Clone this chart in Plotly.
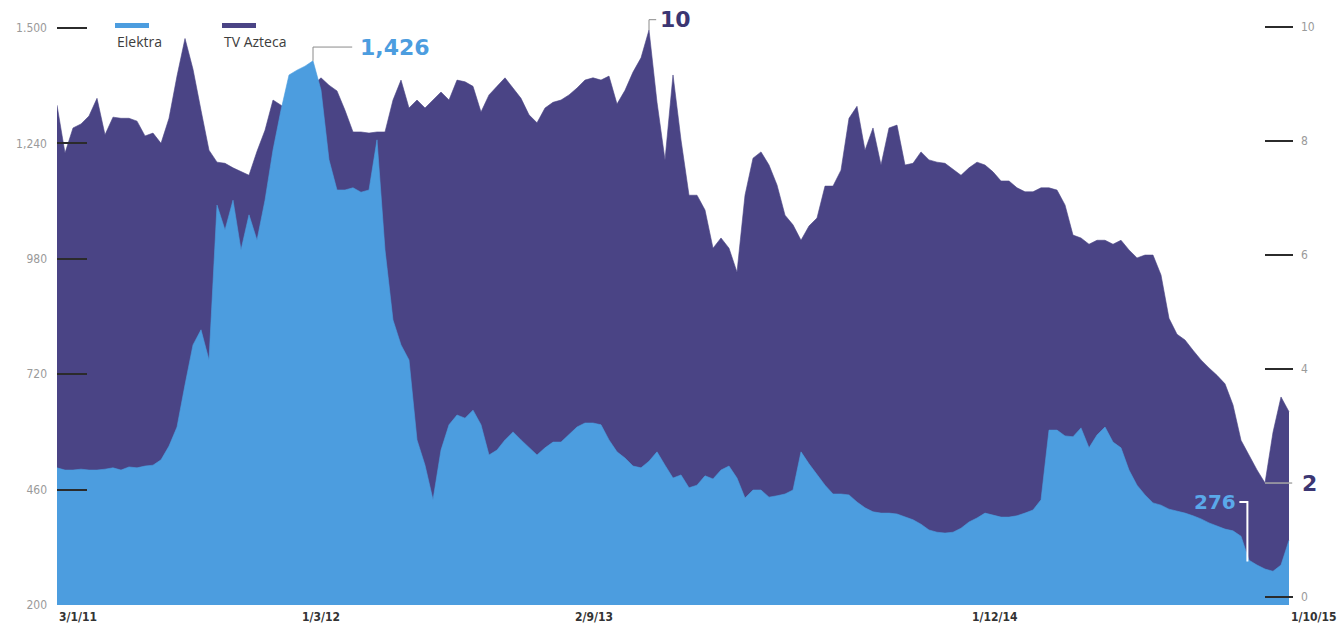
import plotly.graph_objects as go

# ---------------- data ----------------
# Elektra share price (left axis, MXN), sampled evenly along the time axis
elektra = [
    509, 504, 504, 506, 504, 504, 506, 509, 504, 511,
    509, 513, 515, 527, 558, 601, 696, 786, 820, 752,
    1101, 1045, 1112, 1000, 1079, 1022, 1112, 1225, 1315, 1394,
    1405, 1414, 1426, 1360, 1203, 1135, 1135, 1140, 1130, 1135,
    1248, 1000, 842, 786, 752, 572, 515, 437, 549, 606,
    628, 621, 639, 606, 538, 549, 572, 590, 572, 554,
    538, 554, 567, 567, 583, 601, 610, 610, 606, 572,
    545, 531, 513, 509, 524, 545, 515, 486, 493, 464,
    470, 491, 484, 504, 513, 486, 441, 459, 459, 443,
    446, 450, 459, 545, 518, 493, 470, 450, 450, 448,
    432, 419, 410, 407, 407, 405, 398, 392, 382, 369,
    364, 362, 364, 373, 387, 396, 407, 403, 398, 398,
    401, 407, 414, 437, 594, 594, 581, 579, 599, 554,
    583, 601, 567, 554, 504, 470, 448, 430, 425, 416,
    412, 407, 401, 394, 385, 378, 371, 367, 355, 301,
    290, 281, 276, 290, 346,
]
# TV Azteca share price (right axis, MXN)
azteca = [
    8.63, 7.79, 8.23, 8.30, 8.44, 8.75, 8.11, 8.42, 8.40, 8.40,
    8.35, 8.09, 8.14, 7.96, 8.40, 9.14, 9.80, 9.26, 8.54, 7.84,
    7.63, 7.61, 7.53, 7.46, 7.40, 7.82, 8.19, 8.72, 8.63, 8.51,
    8.81, 8.89, 8.98, 9.11, 8.98, 8.88, 8.54, 8.16, 8.16, 8.14,
    8.16, 8.16, 8.72, 9.07, 8.58, 8.72, 8.58, 8.72, 8.86, 8.72,
    9.07, 9.04, 8.96, 8.51, 8.81, 8.96, 9.11, 8.93, 8.75, 8.46,
    8.32, 8.58, 8.68, 8.72, 8.81, 8.93, 9.07, 9.11, 9.07, 9.14,
    8.65, 8.89, 9.21, 9.46, 9.95, 8.68, 7.67, 9.16, 8.02, 7.05,
    7.05, 6.79, 6.12, 6.30, 6.12, 5.70, 7.05, 7.70, 7.81, 7.58,
    7.23, 6.70, 6.53, 6.26, 6.51, 6.65, 7.21, 7.21, 7.49, 8.40,
    8.61, 7.84, 8.23, 7.58, 8.23, 8.28, 7.58, 7.61, 7.81, 7.67,
    7.63, 7.61, 7.51, 7.40, 7.53, 7.63, 7.58, 7.46, 7.30, 7.30,
    7.18, 7.11, 7.11, 7.18, 7.18, 7.14, 6.88, 6.35, 6.30, 6.19,
    6.26, 6.26, 6.19, 6.26, 6.09, 5.95, 6.00, 6.00, 5.65, 4.89,
    4.61, 4.51, 4.33, 4.16, 4.02, 3.89, 3.74, 3.37, 2.75, 2.49,
    2.23, 2.00, 2.89, 3.51, 3.25,
]
date_labels = ["3/1/11", "1/3/12", "2/9/13", "1/12/14", "1/10/15"]
date_pos = [0, 30.4, 64.5, 114.1, 155.0]          # position on the sample axis
left_ticks = [200, 460, 720, 980, 1240, 1500]
left_text = ["200", "460", "720", "980", "1,240", "1.500"]
right_ticks = [0, 4, 6, 8, 10]
right_text = ["0", "4", "6", "8", "10"]

# ---------------- styling ----------------
BLUE = "#4c9ddf"
PURPLE = "#4a4485"
NUM_PURPLE = "#3b3672"
TICK = "#2b2b2b"
LABEL_GREY = "#9a9a9a"
NARROW = "DejaVu Sans Condensed, Roboto, sans-serif"
HEAVY = "DejaVu Sans, sans-serif"

W, H = 1341, 631
L, R, T, B = 57, 48, 10, 26
X_MAX = 154.5


def px(xp):
    return (xp - L) / (W - L - R)


def py(yp):
    return (H - B - yp) / (H - T - B)


def xpaper(v):
    return v / X_MAX


idx = list(range(len(elektra)))

fig = go.Figure()
fig.add_trace(go.Scatter(
    x=idx, y=azteca, yaxis="y", mode="lines", fill="tozeroy",
    line=dict(color=PURPLE, width=0.6), fillcolor=PURPLE,
    name="TV Azteca", hoverinfo="skip"))
fig.add_trace(go.Scatter(
    x=idx, y=elektra, yaxis="y2", mode="lines", fill="tozeroy",
    line=dict(color=BLUE, width=0.6), fillcolor=BLUE,
    name="Elektra", hoverinfo="skip"))

fig.update_layout(
    width=W, height=H, margin=dict(l=L, r=R, t=T, b=B),
    paper_bgcolor="white", plot_bgcolor="white", showlegend=False,
    xaxis=dict(range=[0, X_MAX], showgrid=False, zeroline=False,
               showticklabels=False, ticks="", showline=False),
    yaxis=dict(side="right", range=[-0.14, 10.30], tickvals=right_ticks,
               ticktext=right_text, ticks="inside", ticklen=28, tickwidth=2,
               tickcolor=TICK, showgrid=False, zeroline=False, showline=False,
               ticklabelstandoff=7,
               tickfont=dict(family=NARROW, size=12, color=LABEL_GREY)),
    yaxis2=dict(overlaying="y", side="left", range=[200, 1540.5],
                tickvals=left_ticks, ticktext=left_text, ticks="inside",
                ticklen=30, tickwidth=2, tickcolor=TICK, showgrid=False,
                zeroline=False, showline=False, ticklabelstandoff=9,
                tickfont=dict(family=NARROW, size=12, color=LABEL_GREY)),
)

annotations = []
shapes = []

# date labels along the bottom (last one ends at the right edge of the page)
for k, (lab, pos) in enumerate(zip(date_labels, date_pos)):
    last = k == len(date_labels) - 1
    annotations.append(dict(
        x=px(W - 3) if last else xpaper(pos), y=0, xref="paper", yref="paper",
        text=lab, showarrow=False, xanchor="right" if last else "left",
        yanchor="top", yshift=-3,
        font=dict(family=NARROW, size=12, color="#333333", weight="bold")))

# legend (swatch bar above each name)
for name, color, x0 in [("Elektra", BLUE, 115), ("TV Azteca", PURPLE, 222)]:
    shapes.append(dict(type="rect", xref="paper", yref="paper",
                       x0=px(x0), x1=px(x0 + 34), y0=py(28), y1=py(23),
                       fillcolor=color, line=dict(width=0)))
    annotations.append(dict(x=px(x0), y=py(41), xref="paper", yref="paper",
                            text=name, showarrow=False, xanchor="left",
                            yanchor="middle",
                            font=dict(family="Open Sans", size=14,
                                      color="#3d3d3d")))

# Elektra maximum
i_max = max(range(len(elektra)), key=lambda i: elektra[i])
e_max = elektra[i_max]
lead_y = 1457
shapes.append(dict(type="path", xref="x", yref="y2",
                   path=f"M {i_max},{e_max} L {i_max},{lead_y} L {i_max + 4.9},{lead_y}",
                   line=dict(color="#8a8a8a", width=1)))
annotations.append(dict(x=i_max + 5.6, y=lead_y, xref="x", yref="y2",
                        text=f"{e_max:,}", showarrow=False, xanchor="left",
                        yanchor="middle",
                        font=dict(family=HEAVY, size=22, color=BLUE,
                                  weight="bold")))

# TV Azteca maximum
j_max = max(range(len(azteca)), key=lambda i: azteca[i])
a_max = azteca[j_max]
top_y = 10.13
shapes.append(dict(type="path", xref="x", yref="y",
                   path=f"M {j_max},{a_max} L {j_max},{top_y} L {j_max + 0.9},{top_y}",
                   line=dict(color="#8a8a8a", width=1)))
annotations.append(dict(x=j_max + 1.1, y=top_y, xref="x", yref="y",
                        text=f"{round(a_max)}", showarrow=False,
                        xanchor="left", yanchor="middle",
                        font=dict(family=HEAVY, size=22, color=NUM_PURPLE,
                                  weight="bold")))

# TV Azteca late low
tail = range(len(azteca) - 10, len(azteca))
j_low = min(tail, key=lambda i: azteca[i])
a_low = azteca[j_low]
shapes.append(dict(type="line", xref="x", yref="y", x0=j_low, x1=154.4,
                   y0=a_low, y1=a_low, line=dict(color="#a8a8a8", width=1.5)))
annotations.append(dict(x=xpaper(155.4), y=a_low, xref="paper", yref="y",
                        text=f"{round(a_low)}", showarrow=False,
                        xanchor="left", yanchor="middle",
                        font=dict(family=HEAVY, size=22, color=NUM_PURPLE,
                                  weight="bold")))

# Elektra minimum
e_min = min(elektra)
lx = 148.8
label_y = 432
shapes.append(dict(type="path", xref="x", yref="y2",
                   path=f"M {lx},{e_min + 22} L {lx},{label_y} L {lx - 1.0},{label_y}",
                   line=dict(color="white", width=2)))
annotations.append(dict(x=lx - 1.2, y=label_y, xref="x", yref="y2",
                        text=f"{e_min:,}", showarrow=False, xanchor="right",
                        yanchor="middle",
                        font=dict(family=HEAVY, size=20, color="#5aa9ea",
                                  weight="bold")))

fig.update_layout(annotations=annotations, shapes=shapes)
fig.write_html("out.html")
